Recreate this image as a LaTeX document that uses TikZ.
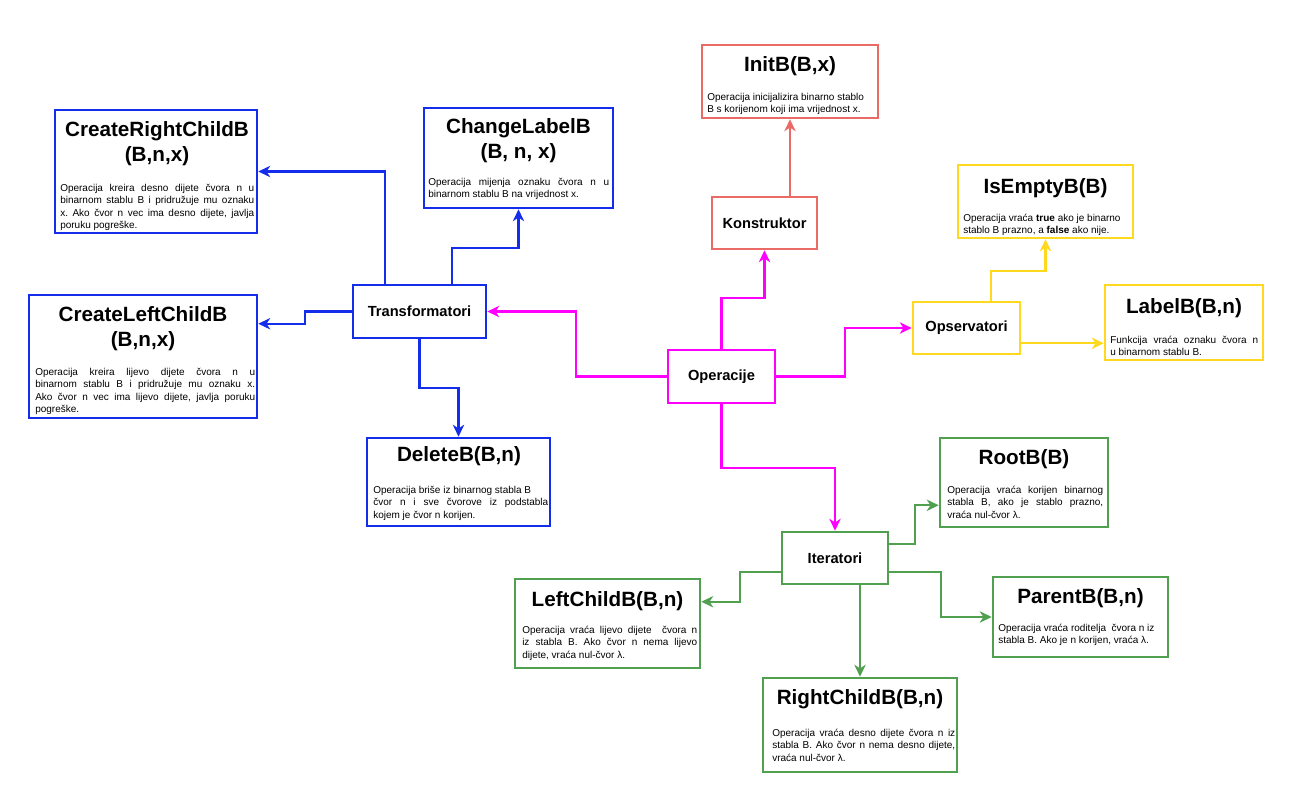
\documentclass[tikz,border=0pt]{standalone}
\usepackage{fontspec}
\setmainfont{Liberation Sans}
\usetikzlibrary{arrows.meta,calc,fit}

\definecolor{tblue}{RGB}{20,45,235}
\definecolor{omag}{RGB}{255,0,255}
\definecolor{kred}{RGB}{234,107,102}
\definecolor{oyel}{RGB}{255,217,30}
\definecolor{igreen}{RGB}{80,160,80}

\begin{document}
\frenchspacing
\begin{tikzpicture}[x=0.75pt,y=-0.75pt,
  frame/.style={draw=#1, line width=1.9pt, inner sep=0pt, fill=white},
  hub/.style={draw=#1, line width=1.9pt, inner sep=0pt, fill=white,
    font=\bfseries\fontsize{11}{13}\selectfont},
  ttl/.style={inner sep=0pt, align=center,
    font=\bfseries\fontsize{15.5}{18.75}\selectfont},
  txt/.style={inner sep=0pt, anchor=north west, align=left,
    font=\fontsize{7.5}{9.25}\selectfont},
  link/.style={draw=#1, line width=1.6pt,
    -{Stealth[length=9pt,width=8.5pt,inset=2.8pt]}},
]
\useasboundingbox (0,0) rectangle (1302,796);
\fill[white] (0,0) rectangle (1302,796);

% ---- group nodes ----
\node[hub=omag,   minimum width=80.25pt, minimum height=39.75pt] (op)  at (721.5,376.5) {Operacije};
\node[hub=tblue,  minimum width=99.75pt, minimum height=39.75pt] (tr)  at (419.5,311.5) {Transformatori};
\node[hub=kred,   minimum width=78.75pt, minimum height=39pt]    (ko)  at (764.5,223)   {Konstruktor};
\node[hub=oyel,   minimum width=80.25pt, minimum height=39pt]    (ops) at (966.5,328)   {Opservatori};
\node[hub=igreen, minimum width=79.5pt,  minimum height=39pt]    (it)  at (835,558)     {Iteratori};

% ---- operation boxes ----
\node[frame=tblue,  fit={(55,110) (257,233)}]   (crc)   {};
\node[frame=tblue,  fit={(424,108) (613,208)}]  (cl)    {};
\node[frame=kred,   fit={(702,45) (878,118)}]   (ini)   {};
\node[frame=tblue,  fit={(29,295) (257,418)}]   (cleft) {};
\node[frame=tblue,  fit={(367,438) (550,526)}]  (del)   {};
\node[frame=oyel,   fit={(958,165) (1133,238)}] (ie)    {};
\node[frame=oyel,   fit={(1105,285) (1263,360)}] (lb)   {};
\node[frame=igreen, fit={(940,438) (1108,527)}] (rt)    {};
\node[frame=igreen, fit={(515,579) (700,668)}]  (lc)    {};
\node[frame=igreen, fit={(993,577) (1168,657)}] (pb)    {};
\node[frame=igreen, fit={(763,678) (957,772)}]  (rc)    {};

% ---- titles ----
\node[ttl] (crc-t)   at (157,143.5)  {CreateRightChildB\\(B,n,x)};
\node[ttl] (cl-t)    at (518.5,141)  {ChangeLabelB\\(B, n, x)};
\node[ttl] (ini-t)   at (790,66)     {InitB(B,x)};
\node[ttl] (cleft-t) at (143,328.5)  {CreateLeftChildB\\(B,n,x)};
\node[ttl] (del-t)   at (459,456)    {DeleteB(B,n)};
\node[ttl] (ie-t)    at (1045.5,188) {IsEmptyB(B)};
\node[ttl] (lb-t)    at (1184,308)   {LabelB(B,n)};
\node[ttl] (rt-t)    at (1024,459)   {RootB(B)};
\node[ttl] (lc-t)    at (607.5,601)  {LeftChildB(B,n)};
\node[ttl] (pb-t)    at (1080.5,598) {ParentB(B,n)};
\node[ttl] (rc-t)    at (860,699)    {RightChildB(B,n)};

% ---- descriptions ----
\node[txt] (crc-d) at (60,184) {%
  \makebox[145.5pt][s]{Operacija kreira desno dijete čvora n u}\\
  \makebox[145.5pt][s]{binarnom stablu B i pridružuje mu oznaku}\\
  \makebox[145.5pt][s]{x. Ako čvor n vec ima desno dijete, javlja}\\
  poruku pogreške.};
\node[txt] (cl-d) at (428,178) {%
  \makebox[135.75pt][s]{Operacija mijenja oznaku čvora n u}\\
  binarnom stablu B na vrijednost x.};
\node[txt] (ini-d) at (707,93) {%
  Operacija inicijalizira binarno stablo\\
  B s korijenom koji ima vrijednost x.};
\node[txt] (cleft-d) at (35,368) {%
  \makebox[165pt][s]{Operacija kreira lijevo dijete čvora n u}\\
  \makebox[165pt][s]{binarnom stablu B i pridružuje mu oznaku x.}\\
  \makebox[165pt][s]{Ako čvor n vec ima lijevo dijete, javlja poruku}\\
  pogreške.};
\node[txt] (del-d) at (373,486) {%
  Operacija briše iz binarnog stabla B\\
  \makebox[131.25pt][s]{čvor n i sve čvorove iz podstabla}\\
  kojem je čvor n korijen.};
\node[txt] (ie-d) at (963,214) {%
  Operacija vraća \textbf{true} ako je binarno\\
  stablo B prazno, a \textbf{false} ako nije.};
\node[txt] (lb-d) at (1110,336) {%
  \makebox[111pt][s]{Funkcija vraća oznaku čvora n}\\
  u binarnom stablu B.};
\node[txt] (rt-d) at (947,486) {%
  \makebox[117pt][s]{Operacija vraća korijen binarnog}\\
  \makebox[117pt][s]{stabla B, ako je stablo prazno,}\\
  vraća nul-čvor λ.};
\node[txt] (lc-d) at (522,626) {%
  \makebox[131.25pt][s]{Operacija vraća lijevo dijete \ čvora n}\\
  \makebox[131.25pt][s]{iz stabla B. Ako čvor n nema lijevo}\\
  dijete, vraća nul-čvor λ.};
\node[txt] (pb-d) at (998,624) {%
  Operacija vraća roditelja \ čvora n iz\\
  stabla B. Ako je n korijen, vraća λ.};
\node[txt] (rc-d) at (772,729) {%
  \makebox[137.25pt][s]{Operacija vraća desno dijete čvora n iz}\\
  \makebox[137.25pt][s]{stabla B. Ako čvor n nema desno dijete,}\\
  vraća nul-čvor λ.};

% ---- connectors from Operacije ----
\draw[link=omag] (op.west) -- ++(-91,0) |- (tr.east);
\draw[link=omag] (op.north) -- ++(0,-51) -| (ko.south);
\draw[link=omag] (op.east) -- ++(69,0) |- (ops.west);
\draw[link=omag] (op.south) -- ++(0,64) -| (it.north);

% ---- Konstruktor ----
\draw[link=kred] (ini.south |- ko.north) -- (ini.south);

% ---- Transformatori ----
\draw[link=tblue] ($(tr.north west)+(33,0)$) |- (crc.east);
\draw[link=tblue] ($(tr.north west)+(100,0)$) -- ++(0,-36) -| (cl.south);
\draw[link=tblue] (tr.west) -- ++(-47,0) |- ($(cleft.north east)+(0,30)$);
\draw[link=tblue] (tr.south) -- ++(0,49) -| (del.north);

% ---- Opservatori ----
\coordinate (obl) at ($(ops.south east)+(0,-12)$);
\draw[link=oyel] ($(ops.north west)+(79,0)$) -- ++(0,-30) -| (ie.south);
\draw[link=oyel] (obl) -- (obl -| lb.west);

% ---- Iteratori ----
\draw[link=igreen] ($(it.north east)+(0,13)$) -- ++(26,0) |- ($(rt.south west)+(0,-23)$);
\draw[link=igreen] ($(it.south west)+(0,-13)$) -- ++(-41,0) |- ($(lc.north east)+(0,24)$);
\draw[link=igreen] ($(it.south east)+(0,-13)$) -- ++(52,0) |- (pb.west);
\draw[link=igreen] (rc.north |- it.south) -- (rc.north);
\end{tikzpicture}
\end{document}
